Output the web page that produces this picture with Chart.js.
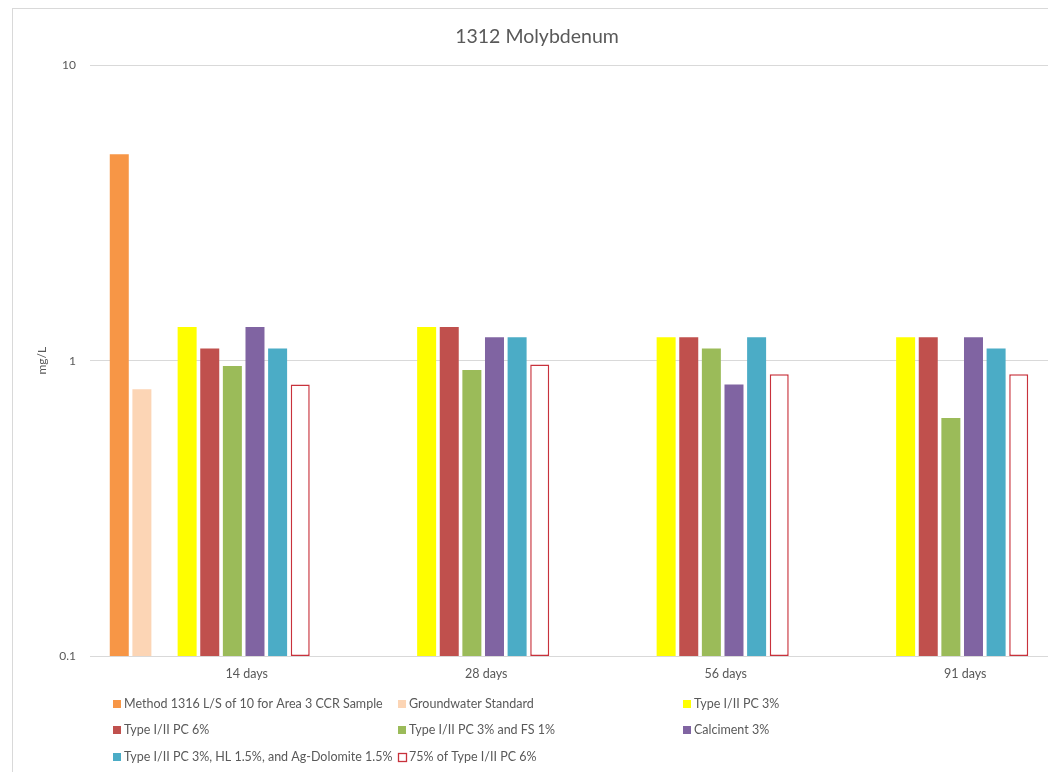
<!DOCTYPE html>
<html>
<head>
<meta charset="utf-8">
<script src="https://cdn.jsdelivr.net/npm/chart.js@4.4.1/dist/chart.umd.min.js"></script>
<style>
  html, body { margin: 0; padding: 0; background: #ffffff; overflow: hidden; }
  #wrap { position: relative; width: 1048px; height: 772px; overflow: hidden; }
  #frame { position: absolute; left: 12px; top: 8px; width: 1200px; height: 1000px;
           border: 1px solid #d9d9d9; box-sizing: border-box; }
  #c { position: absolute; left: 0; top: 0; }
</style>
</head>
<body>
<div id="wrap">
  <div id="frame"></div>
  <canvas id="c" width="1048" height="772"></canvas>
</div>
<script>
// Curing ages
const categories = ['14 days', '28 days', '56 days', '91 days'];

// Molybdenum concentrations, mg/L
const method1316       = [5.0, null, null, null];
const groundwaterStd   = [0.8, null, null, null];
const spacer           = [null, null, null, null];
const pc3              = [1.3, 1.3, 1.2, 1.2];
const pc6              = [1.1, 1.3, 1.2, 1.2];
const pc3fs1           = [0.96, 0.93, 1.1, 0.64];
const calciment3       = [1.3, 1.2, 0.83, 1.2];
const pc3hlDolomite    = [1.1, 1.2, 1.2, 1.1];
const pc6pct75         = [0.83, 0.97, 0.9, 0.9];

const yTicks = [0.1, 1, 10];

const FONT = 'Lato, "Open Sans", sans-serif';
const GREY = '#595959';

const datasets = [
  { label: 'Method 1316 L/S of 10 for Area 3 CCR Sample', data: method1316, backgroundColor: '#F79646' },
  { label: 'Groundwater Standard', data: groundwaterStd, backgroundColor: '#FCD5B5' },
  { label: '', data: spacer, backgroundColor: 'rgba(0,0,0,0)' },
  { label: 'Type I/II PC 3%', data: pc3, backgroundColor: '#FFFF00' },
  { label: 'Type I/II PC 6%', data: pc6, backgroundColor: '#C0504D' },
  { label: 'Type I/II PC 3% and FS 1%', data: pc3fs1, backgroundColor: '#9BBB59' },
  { label: 'Calciment 3%', data: calciment3, backgroundColor: '#8064A2' },
  { label: 'Type I/II PC 3%, HL 1.5%, and Ag-Dolomite 1.5%', data: pc3hlDolomite, backgroundColor: '#4BACC6' },
  { label: '75% of Type I/II PC 6%', data: pc6pct75, backgroundColor: '#FFFFFF',
    borderColor: '#C8323C', borderWidth: 1.5, borderSkipped: false }
];

// Three-column legend laid out below the axis
const gridLegend = {
  id: 'gridLegend',
  afterDraw(chart) {
    const ctx = chart.ctx;
    const cols = [113, 398, 683];
    const rows = [704, 730, 757];
    const items = chart.data.datasets.filter(d => d.label);
    ctx.save();
    ctx.font = '12.5px ' + FONT;
    ctx.textBaseline = 'middle';
    ctx.textAlign = 'left';
    items.forEach((d, i) => {
      const x = cols[i % 3];
      const y = rows[Math.floor(i / 3)];
      ctx.fillStyle = d.backgroundColor;
      ctx.fillRect(x, y - 4, 8, 8);
      if (d.borderColor) {
        ctx.strokeStyle = d.borderColor;
        ctx.lineWidth = 1.3;
        ctx.strokeRect(x + 0.5, y - 3.5, 8, 8);
      }
      ctx.fillStyle = GREY;
      ctx.fillText(d.label, x + 11, y);
    });
    ctx.restore();
  }
};

new Chart(document.getElementById('c'), {
  type: 'bar',
  data: { labels: categories, datasets: datasets },
  plugins: [gridLegend],
  options: {
    responsive: false,
    animation: false,
    devicePixelRatio: 1,
    layout: { padding: { left: 26, right: 0, top: 0, bottom: 81 } },
    datasets: { bar: { categoryPercentage: 0.85, barPercentage: 0.84 } },
    plugins: {
      legend: { display: false },
      tooltip: { enabled: false },
      title: {
        display: true,
        text: '1312 Molybdenum',
        color: GREY,
        font: { family: FONT, size: 19.5, weight: 'normal' },
        padding: { top: 25, bottom: 17 }
      }
    },
    scales: {
      x: {
        grid: { display: false, drawTicks: false },
        border: { display: true, color: '#d9d9d9', width: 1 },
        ticks: { color: GREY, font: { family: FONT, size: 12.5 }, padding: 10, labelOffset: 37, maxRotation: 0 }
      },
      y: {
        type: 'logarithmic',
        min: 0.1,
        max: 10,
        afterBuildTicks(scale) { scale.ticks = yTicks.map(v => ({ value: v })); },
        afterFit(scale) { scale.width = 64; },
        grid: { color: '#d9d9d9', drawTicks: false },
        border: { display: false },
        ticks: {
          color: GREY,
          font: { family: FONT, size: 12 },
          padding: 14,
          callback: v => String(v)
        },
        title: {
          display: true,
          text: 'mg/L',
          color: GREY,
          font: { family: FONT, size: 12 },
          padding: { top: 9, bottom: 0 }
        }
      }
    }
  }
});
</script>
</body>
</html>
